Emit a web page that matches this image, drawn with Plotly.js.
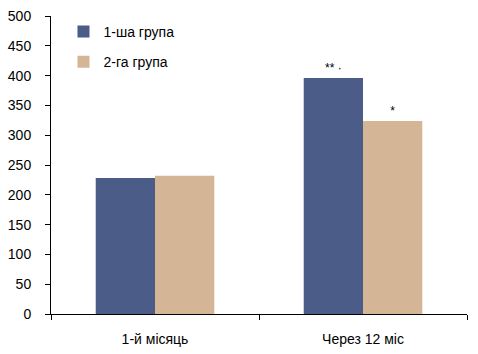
<!DOCTYPE html>
<html><head><meta charset="utf-8">
<script src="https://cdn.plot.ly/plotly-3.0.1.min.js"></script>
<style>html,body{margin:0;padding:0;background:#fff;}#chart{width:478px;height:354px;}</style>
</head><body><div id="chart"></div>
<script>
var categories = ["1-й місяць", "Через 12 міс"];
var group1 = [228, 396];
var group2 = [232, 324];
var seriesNames = ["1-ша група", "2-га група"];
var marks1 = ["", "** ·"];
var marks2 = ["", "*"];

var font = "Liberation Sans, Arial, sans-serif";

var traces = [
  {type: "bar", x: categories, y: group1, name: seriesNames[0], legendgroup: "a",
   marker: {color: "#4A5C87"}, text: marks1, textposition: "outside",
   textfont: {size: 12, color: "#000", family: font}, cliponaxis: false},
  {type: "bar", x: categories, y: group2, name: seriesNames[1], legendgroup: "b",
   marker: {color: "#D4B596"}, text: marks2, textposition: "outside",
   textfont: {size: 12, color: "#000", family: font}, cliponaxis: false}
];

var layout = {
  width: 478, height: 354,
  margin: {l: 51, r: 11, t: 16, b: 40},
  paper_bgcolor: "#fff", plot_bgcolor: "#fff",
  font: {family: font, size: 14, color: "#000"},
  barmode: "group", bargap: 0.43, bargroupgap: 0,
  showlegend: true,
  legend: {x: 0.03, y: 1.0, xanchor: "left", yanchor: "top",
           traceorder: "grouped", tracegroupgap: 9,
           font: {family: font, size: 14, color: "#000"}, bgcolor: "rgba(0,0,0,0)"},
  xaxis: {showline: true, linecolor: "#000", linewidth: 1, ticks: "outside",
          tickson: "boundaries", ticklen: 5, tickcolor: "#000", showgrid: false,
          ticklabelstandoff: 12, tickfont: {family: font, size: 14}},
  yaxis: {range: [0, 500], dtick: 50, showline: true, linecolor: "#000", linewidth: 1,
          ticks: "outside", ticklen: 5, tickcolor: "#000", showgrid: false, zeroline: false,
          ticklabelstandoff: 11, tickfont: {family: font, size: 14}}
};

Plotly.newPlot("chart", traces, layout, {displayModeBar: false, staticPlot: true});
</script></body></html>
